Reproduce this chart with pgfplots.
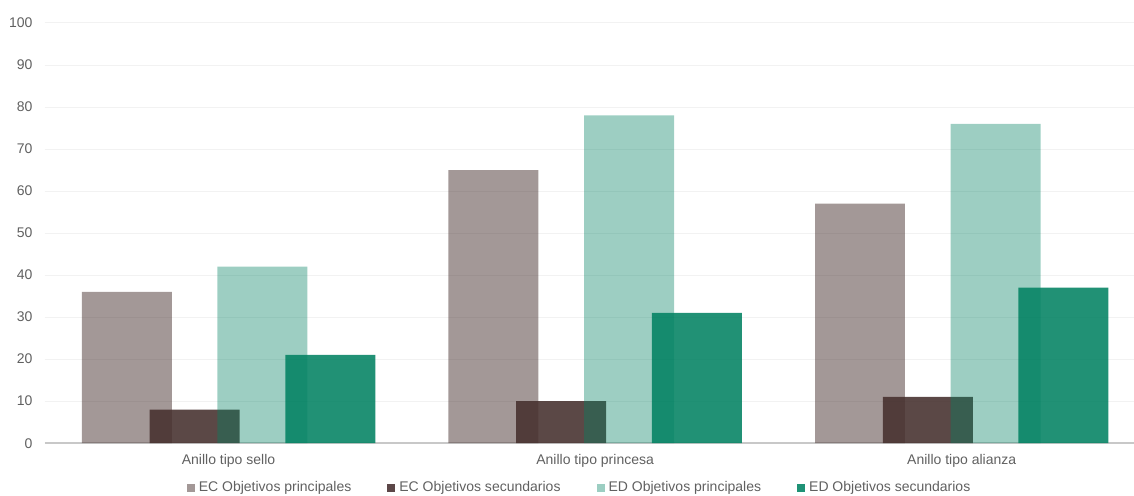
\documentclass[border=0pt]{standalone}
\usepackage{pgfplots}
\pgfplotsset{compat=1.18}
\usepackage{fontspec}
\setmainfont{Liberation Sans}
\definecolor{ecbase}{RGB}{71,49,47}
\definecolor{edbase}{RGB}{2,130,98}
\definecolor{ecpL}{RGB}{163,152,151}
\definecolor{ecsL}{RGB}{92,71,72}
\definecolor{edpL}{RGB}{156,206,194}
\definecolor{edsL}{RGB}{31,146,118}
\definecolor{ticktext}{RGB}{96,96,96}
\definecolor{axisline}{RGB}{200,200,200}
\begin{document}
\begin{tikzpicture}
\begin{axis}[
  scale only axis,
  width=544.5pt, height=210pt,
  xmin=-0.502, xmax=2.47,
  ymin=0, ymax=100,
  axis x line*=bottom,
  axis y line*=left,
  y axis line style={draw=none},
  x axis line style={draw=axisline, line width=0.75pt},
  major tick length=0pt,
  xtick={0,1,2},
  xticklabels={Anillo tipo sello, Anillo tipo princesa, Anillo tipo alianza},
  ytick={0,10,...,100},
  ymajorgrids,
  grid style={draw=black!5, line width=0.5pt},
  tick label style={font=\fontsize{7}{8}\selectfont, text=ticktext},
  /pgf/number format/assume math mode=true,
  yticklabel style={xshift=-2.5pt},
  xticklabel style={yshift=-2pt},
  legend columns=4,
  legend style={draw=none, fill=none, at={(0.492,0)}, anchor=center, yshift=-22.5pt,
    font=\fontsize{7}{8}\selectfont, text=ticktext,
    /tikz/every even column/.append style={column sep=16pt}},
  legend image code/.code={\fill[#1, draw=none] (0pt,-2pt) rectangle (4pt,2pt);},
]
\coordinate (ll) at (rel axis cs:0,0);
\coordinate (ur) at (rel axis cs:1,1);
\addlegendimage{fill=ecpL, draw=none}
\addlegendentry{EC Objetivos principales}
\addlegendimage{fill=ecsL, draw=none}
\addlegendentry{EC Objetivos secundarios}
\addlegendimage{fill=edpL, draw=none}
\addlegendentry{ED Objetivos principales}
\addlegendimage{fill=edsL, draw=none}
\addlegendentry{ED Objetivos secundarios}
% EC Objetivos secundarios
\addplot[forget plot, ybar, bar width=0.2454, bar shift=-0.0925, draw=none, fill=ecbase, fill opacity=0.89]
  coordinates {(0,8) (1,10) (2,11)};
% ED Objetivos secundarios
\addplot[forget plot, ybar, bar width=0.2454, bar shift=0.2775, draw=none, fill=edbase, fill opacity=0.88]
  coordinates {(0,21) (1,31) (2,37)};
% EC Objetivos principales
\addplot[forget plot, ybar, bar width=0.2454, bar shift=-0.2775, draw=none, fill=ecbase, fill opacity=0.5]
  coordinates {(0,36) (1,65) (2,57)};
% ED Objetivos principales
\addplot[forget plot, ybar, bar width=0.2454, bar shift=0.0925, draw=none, fill=edbase, fill opacity=0.39]
  coordinates {(0,42) (1,78) (2,76)};
\end{axis}
\pgfresetboundingbox
\path ([shift={(-22.25pt,-26pt)}]ll) rectangle ([shift={(0pt,11.5pt)}]ur);
\end{tikzpicture}
\end{document}
